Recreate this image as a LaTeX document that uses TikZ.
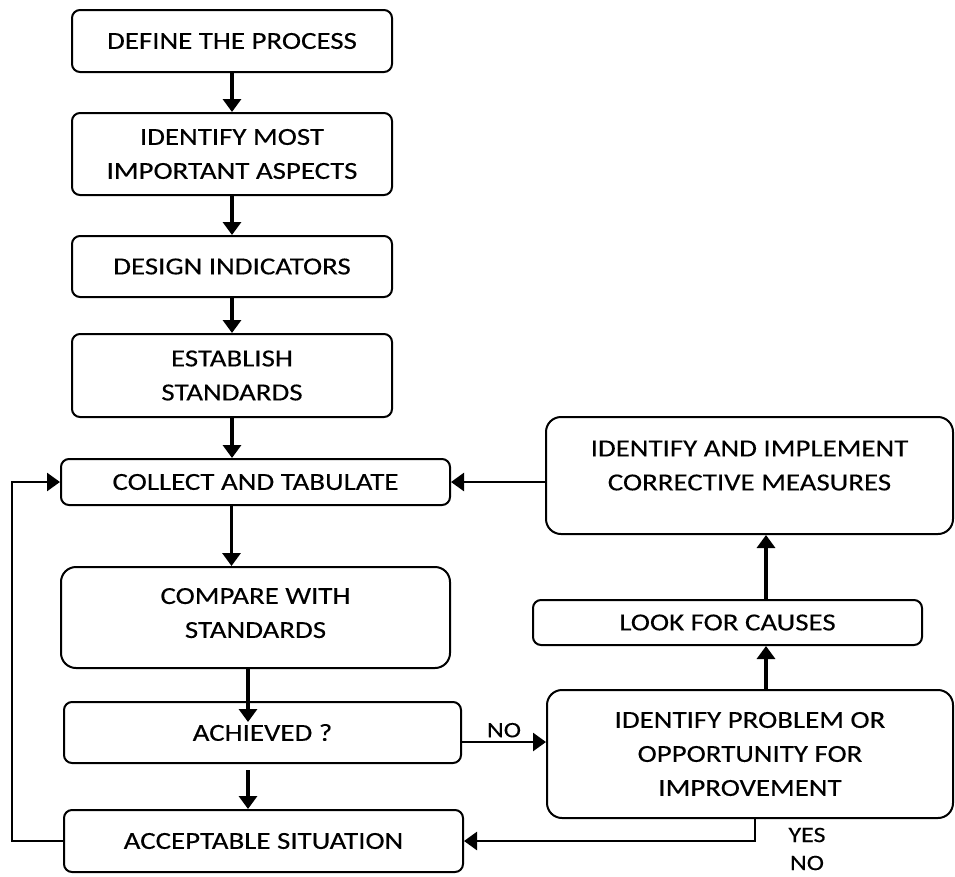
\documentclass[tikz,border=0pt]{standalone}
\usepackage{fontspec}
\setmainfont{Carlito}[FakeStretch=1.18,FakeBold=0.25]
\usetikzlibrary{arrows.meta}

\begin{document}
\begin{tikzpicture}[x=1pt,y=-1pt,
  -{Triangle[length=13pt,width=18pt]},line width=3.3pt,
  main node/.style={draw,rounded corners=8pt,line width=2pt,inner sep=0pt,
    align=center,font=\fontsize{24.5}{34}\selectfont},
  big node/.style={main node,rounded corners=15pt}]

  \useasboundingbox (0,0) rectangle (955,876);

  \node[main node,minimum width=320pt,minimum height=62pt] (1) at (232,41) {DEFINE THE PROCESS};
  \node[main node,minimum width=320pt,minimum height=82pt] (2) at (232,154) {IDENTIFY MOST\\IMPORTANT ASPECTS};
  \node[main node,minimum width=320pt,minimum height=61pt] (3) at (232,266.5) {DESIGN INDICATORS};
  \node[main node,minimum width=320pt,minimum height=83pt] (4) at (232,375.5) {ESTABLISH\\STANDARDS};
  \node[main node,minimum width=389pt,minimum height=46pt] (5) at (255.5,482) {COLLECT AND TABULATE};
  \node[big node,minimum width=389pt,minimum height=101pt] (6) at (255.5,617.5) {COMPARE WITH\\STANDARDS\rule[-9pt]{0pt}{1pt}};
  \node[main node,minimum width=397pt,minimum height=61pt] (7) at (262.5,732.5) {ACHIEVED ?};
  \node[main node,minimum width=399pt,minimum height=62pt] (8) at (263.5,841) {ACCEPTABLE SITUATION};
  \node[big node,minimum width=407pt,minimum height=117pt] (9) at (749.5,475.5) {IDENTIFY AND IMPLEMENT\\CORRECTIVE MEASURES\rule[-20pt]{0pt}{1pt}};
  \node[main node,minimum width=389pt,minimum height=45pt] (10) at (727.5,622.5) {LOOK FOR CAUSES};
  \node[big node,minimum width=406pt,minimum height=128pt] (11) at (750,754) {IDENTIFY PROBLEM OR\\OPPORTUNITY FOR\\IMPROVEMENT};

  \node[font=\fontsize{22}{26}\selectfont] (yes) at (807,835) {YES};
  \node[font=\fontsize{22}{26}\selectfont] (no) at (807,863) {NO};

  \path[every node/.style={font=\fontsize{22}{26}\selectfont}]
    (1) edge (2)
    (2) edge (3)
    (3) edge (4)
    (4) edge (4.south |- 5.north)
    ([xshift=-24pt]5.south) edge ([xshift=-24pt]5.south |- 6.north)
    ([xshift=-7.5pt]6.south) edge ([xshift=-14.5pt,yshift=-21pt]7.north)
    ([xshift=-14.5pt,yshift=-6pt]7.south) edge ([xshift=-15.5pt]8.north)
    ([yshift=-9.5pt]7.east) edge[line width=2.6pt] node [above] {NO} ([yshift=12pt]11.west)
    ([xshift=16pt]11.north) edge ([xshift=38.5pt]10.south)
    ([xshift=38.5pt]10.north) edge ([xshift=16.5pt]9.south)
    ([yshift=-6.5pt]9.west) edge[line width=2.6pt] (5.east)
    ([xshift=5pt]11.south) edge[line width=2.6pt,to path={|- (\tikztotarget)}] (8.east)
    (8.west) edge[line width=2.6pt,to path={-- ++(-51pt,0) |- (\tikztotarget)}] (5.west);
\end{tikzpicture}
\end{document}
